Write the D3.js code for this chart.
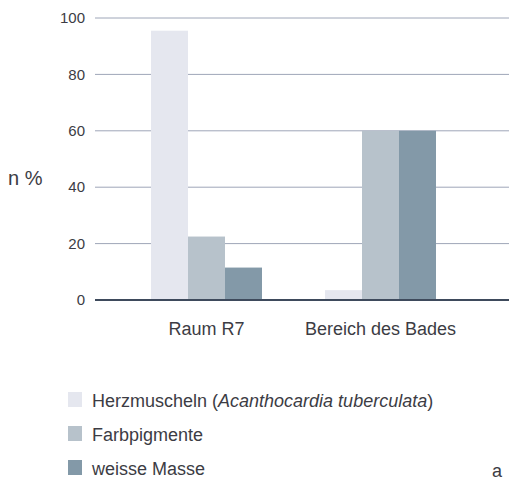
<!DOCTYPE html>
<meta charset="utf-8">
<style>
    body { margin: 0; background: #fff; }
    svg text { font-family: "Liberation Sans", Arial, sans-serif; fill: #3c3c44; }
</style>
<svg width="509" height="482"></svg>
<script src="https://cdn.jsdelivr.net/npm/d3@7"></script>
<script>

    var categories = ["Raum R7", "Bereich des Bades"];
    var series = ["Herzmuscheln", "Farbpigmente", "weisse Masse"];
    var herzmuscheln = [95.5, 3.5];
    var farbpigmente = [22.5, 60];
    var weisseMasse = [11.5, 60];
    var yTicks = [0, 20, 40, 60, 80, 100];
    var colors = ["#e5e7ef", "#b7c2cb", "#8399a8"];

    var values = [herzmuscheln, farbpigmente, weisseMasse];

    var svg = d3.select("svg"),
        margin = {top: 18, left: 95, bottom: 182, right: 0},
        height = +svg.attr("height") - margin.top - margin.bottom;

    var y = d3.scaleLinear()
        .domain([0, 100])
        .range([margin.top + height, margin.top]);

    var x0 = d3.scaleBand()
        .domain(categories)
        .range([119.5, 467.5]);

    var x1 = d3.scaleBand()
        .domain(series)
        .range([31.5, x0.bandwidth() - 31.5]);

    // gridlines
    svg.append("g")
        .selectAll("line")
        .data(yTicks.filter(d => d > 0))
        .enter().append("line")
        .attr("x1", margin.left)
        .attr("x2", 509)
        .attr("y1", d => y(d))
        .attr("y2", d => y(d))
        .attr("stroke", "#9ea6b8")
        .attr("stroke-width", 1);

    // bars
    var groups = svg.append("g")
        .selectAll("g")
        .data(categories)
        .enter().append("g")
        .attr("transform", d => "translate(" + x0(d) + ",0)");

    groups.selectAll("rect")
        .data((c, i) => series.map((s, j) => ({s: s, v: values[j][i], j: j})))
        .enter().append("rect")
        .attr("x", d => x1(d.s))
        .attr("width", x1.bandwidth())
        .attr("y", d => y(d.v))
        .attr("height", d => y(0) - y(d.v))
        .attr("fill", d => colors[d.j]);

    // baseline
    svg.append("line")
        .attr("x1", margin.left)
        .attr("x2", 509)
        .attr("y1", y(0))
        .attr("y2", y(0))
        .attr("stroke", "#3e4a5c")
        .attr("stroke-width", 2);

    // y tick labels
    svg.append("g")
        .selectAll("text")
        .data(yTicks)
        .enter().append("text")
        .attr("x", 85)
        .attr("y", d => y(d))
        .attr("dy", "0.35em")
        .attr("text-anchor", "end")
        .style("font-size", "15px")
        .text(d => d);

    svg.append("text")
        .attr("x", 8)
        .attr("y", 185)
        .style("font-size", "20px")
        .text("n %");

    // category labels
    svg.append("g")
        .selectAll("text")
        .data(categories)
        .enter().append("text")
        .attr("x", d => x0(d) + x0.bandwidth() / 2)
        .attr("y", 335)
        .attr("text-anchor", "middle")
        .style("font-size", "18px")
        .text(d => d);

    // legend
    var legend = svg.append("g")
        .selectAll("g")
        .data(series)
        .enter().append("g")
        .attr("transform", (d, i) => "translate(68," + (407 + i * 34) + ")");

    legend.append("rect")
        .attr("y", -15)
        .attr("width", 14)
        .attr("height", 15)
        .attr("fill", (d, i) => colors[i]);

    var lt = legend.append("text")
        .attr("x", 24)
        .attr("y", 0)
        .style("font-size", "18px");

    lt.each(function(d) {
        var t = d3.select(this);
        if (d === "Herzmuscheln") {
            t.append("tspan").text("Herzmuscheln (");
            t.append("tspan").style("font-style", "italic").text("Acanthocardia tuberculata");
            t.append("tspan").text(")");
        } else {
            t.text(d);
        }
    });

    svg.append("text")
        .attr("x", 492)
        .attr("y", 477)
        .style("font-size", "18px")
        .text("a");

</script>
